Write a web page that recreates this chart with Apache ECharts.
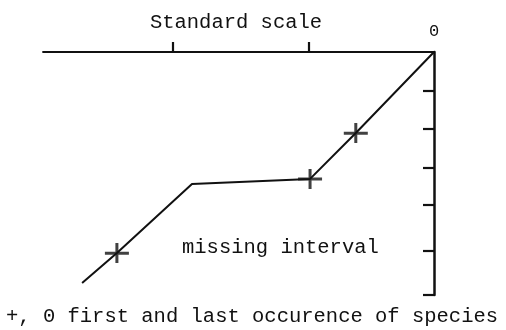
<!DOCTYPE html>
<html>
<head>
<meta charset="utf-8">
<script src="https://cdn.jsdelivr.net/npm/echarts@6/dist/echarts.min.js"></script>
<style>html,body{margin:0;padding:0;background:#fff;}#c{width:506px;height:330px;}</style>
</head>
<body>
<div id="c"></div>
<script>
// Standard scale (x, negative to the left of 0) vs. section position (y, downward)
const lineX = [0, -2.0, -3.17, -6.19, -8.11, -9.0];
const lineY = [0, 2.1, 3.29, 3.42, 5.21, 5.99];
const crossX = [-2.0, -3.17, -8.11];
const crossY = [2.1, 3.29, 5.21];
const xTicks = [-6.68, -3.2];
const xLabels = [0];
const yTicks = [1, 2, 3, 3.95, 5.15, 6.3];
const titleText = 'Standard scale';
const noteText = 'missing interval';
const legendText = '+, 0 first and last occurence of species';

const ink = '#111';
const font = 'Liberation Mono';
const chart = echarts.init(document.getElementById('c'), null, {renderer: 'canvas'});
chart.setOption({
  animation: false,
  backgroundColor: '#fff',
  title: {
    text: titleText, left: 231, top: 7, textAlign: 'center',
    textStyle: {fontFamily: font, fontSize: 20.5, fontWeight: 'normal', color: ink}
  },
  grid: {left: 43, right: 72, top: 52, bottom: 35},
  xAxis: {
    type: 'value', position: 'top', min: -10, max: 0,
    splitLine: {show: false},
    axisLine: {lineStyle: {color: ink, width: 1.8}},
    axisTick: {customValues: xTicks, length: 10, lineStyle: {color: ink, width: 2.2}},
    axisLabel: {customValues: xLabels, formatter: v => String(v), margin: 12,
      fontFamily: font, fontSize: 17, color: ink}
  },
  yAxis: {
    type: 'value', position: 'right', inverse: true, min: 0, max: 6.3,
    splitLine: {show: false},
    axisLine: {lineStyle: {color: ink, width: 2.5}},
    axisTick: {inside: true, customValues: yTicks, length: 11, lineStyle: {color: ink, width: 2.2}},
    axisLabel: {show: false}
  },
  graphic: [
    {type: 'text', left: 182, top: 237, style: {text: noteText, font: '20.5px "Liberation Mono"', fill: ink}},
    {type: 'text', left: 6, top: 306, style: {text: legendText, font: '20.5px "Liberation Mono"', fill: ink}}
  ],
  series: [
    {type: 'line', data: lineX.map((x, i) => [x, lineY[i]]), showSymbol: false,
      lineStyle: {color: ink, width: 2}, silent: true},
    {type: 'scatter', data: crossX.map((x, i) => [x, crossY[i]]),
      symbol: 'path://M0,8.7L24,8.7L24,11.7L0,11.7Z M10.5,0L13.5,0L13.5,20L10.5,20Z',
      symbolSize: [24, 20], itemStyle: {color: ink}, silent: true}
  ]
});
</script>
</body>
</html>
